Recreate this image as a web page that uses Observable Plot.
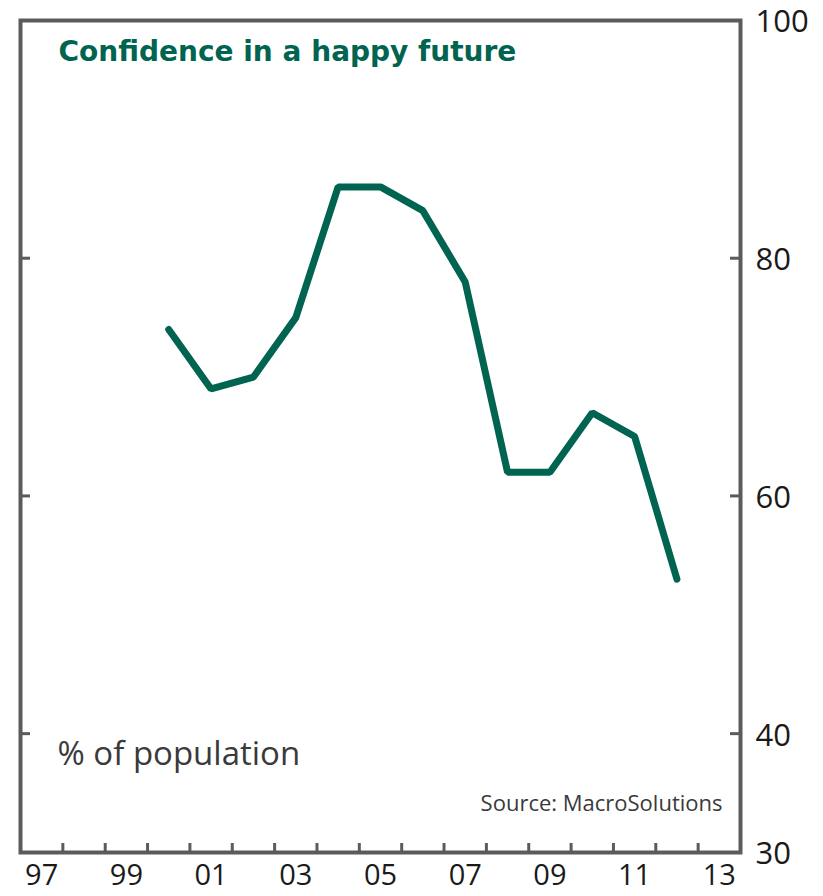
<!DOCTYPE html>
<html>
<head>
<meta charset="utf-8">
<script src="https://cdn.jsdelivr.net/npm/d3@7"></script>
<script src="https://cdn.jsdelivr.net/npm/@observablehq/plot@0.6"></script>
<style>
  html, body { margin: 0; padding: 0; background: #fff; }
  #chart svg { display: block; }
</style>
</head>
<body>
<div id="chart"></div>
<script>
const years = [2000, 2001, 2002, 2003, 2004, 2005, 2006, 2007, 2008, 2009, 2010, 2011, 2012];
const values = [74, 69, 70, 75, 86, 86, 84, 78, 62, 62, 67, 65, 53];
const xLabelYears = [1997, 1999, 2001, 2003, 2005, 2007, 2009, 2011, 2013];
const xTickLabels = ["97", "99", "01", "03", "05", "07", "09", "11", "13"];
const xTickBoundaries = [1997.5, 1998.5, 1999.5, 2000.5, 2001.5, 2002.5, 2003.5, 2004.5, 2005.5, 2006.5, 2007.5, 2008.5, 2009.5, 2010.5, 2011.5, 2012.5];
const yTickLabels = [30, 40, 60, 80, 100];
const yTickMarks = [40, 60, 80];
const title = "Confidence in a happy future";
const unitNote = "% of population";
const source = "Source: MacroSolutions";

const data = years.map((year, i) => ({year, value: values[i]}));

const green = "#006450";
const axisGray = "#5a5b5d";
const font = "'Open Sans', 'DejaVu Sans', sans-serif";
const innerW = 823 - 20 - 83;
const innerH = 896 - 20 - 44;

const chart = Plot.plot({
  width: 823,
  height: 896,
  marginLeft: 20,
  marginRight: 83,
  marginTop: 20,
  marginBottom: 44,
  style: {fontFamily: font, color: "#1a1a1a", background: "#fff", overflow: "visible"},
  x: {type: "linear", domain: [1996.5, 2013.5]},
  y: {domain: [30, 100]},
  marks: [
    Plot.axisY(yTickLabels, {anchor: "right", tickSize: 0, tickPadding: 15, fontSize: 31, fill: "#1a1a1a", label: null, dy: 2}),
    Plot.axisX(xLabelYears, {anchor: "bottom", tickSize: 0, tickPadding: 12, fontSize: 29, fill: "#1a1a1a", label: null,
      tickFormat: (d) => xTickLabels[xLabelYears.indexOf(d)]}),
    Plot.tickX(xTickBoundaries, {x: (d) => d, insetTop: innerH - 9, stroke: axisGray, strokeWidth: 3}),
    Plot.tickY(yTickMarks, {y: (d) => d, insetRight: innerW - 10, stroke: axisGray, strokeWidth: 3}),
    Plot.tickY(yTickMarks, {y: (d) => d, insetLeft: innerW - 10, stroke: axisGray, strokeWidth: 3}),
    Plot.frame({stroke: axisGray, strokeWidth: 4}),
    Plot.line(data, {x: "year", y: "value", stroke: green, strokeWidth: 7, strokeLinecap: "round", strokeLinejoin: "miter"}),
    Plot.text([title], {frameAnchor: "top-left", dx: 38, dy: 32, textAnchor: "start", lineAnchor: "middle",
      fontSize: 28, fontWeight: "bold", fill: green, fontFamily: "'DejaVu Sans', sans-serif"}),
    Plot.text([unitNote], {frameAnchor: "bottom-left", dx: 37, dy: -98, textAnchor: "start", lineAnchor: "middle",
      fontSize: 33, fill: "#3a3a3a"}),
    Plot.text([source], {frameAnchor: "bottom-right", dx: -18, dy: -49, textAnchor: "end", lineAnchor: "middle",
      fontSize: 22, fill: "#3a3a3a"})
  ]
});
document.getElementById("chart").appendChild(chart);
</script>
</body>
</html>
